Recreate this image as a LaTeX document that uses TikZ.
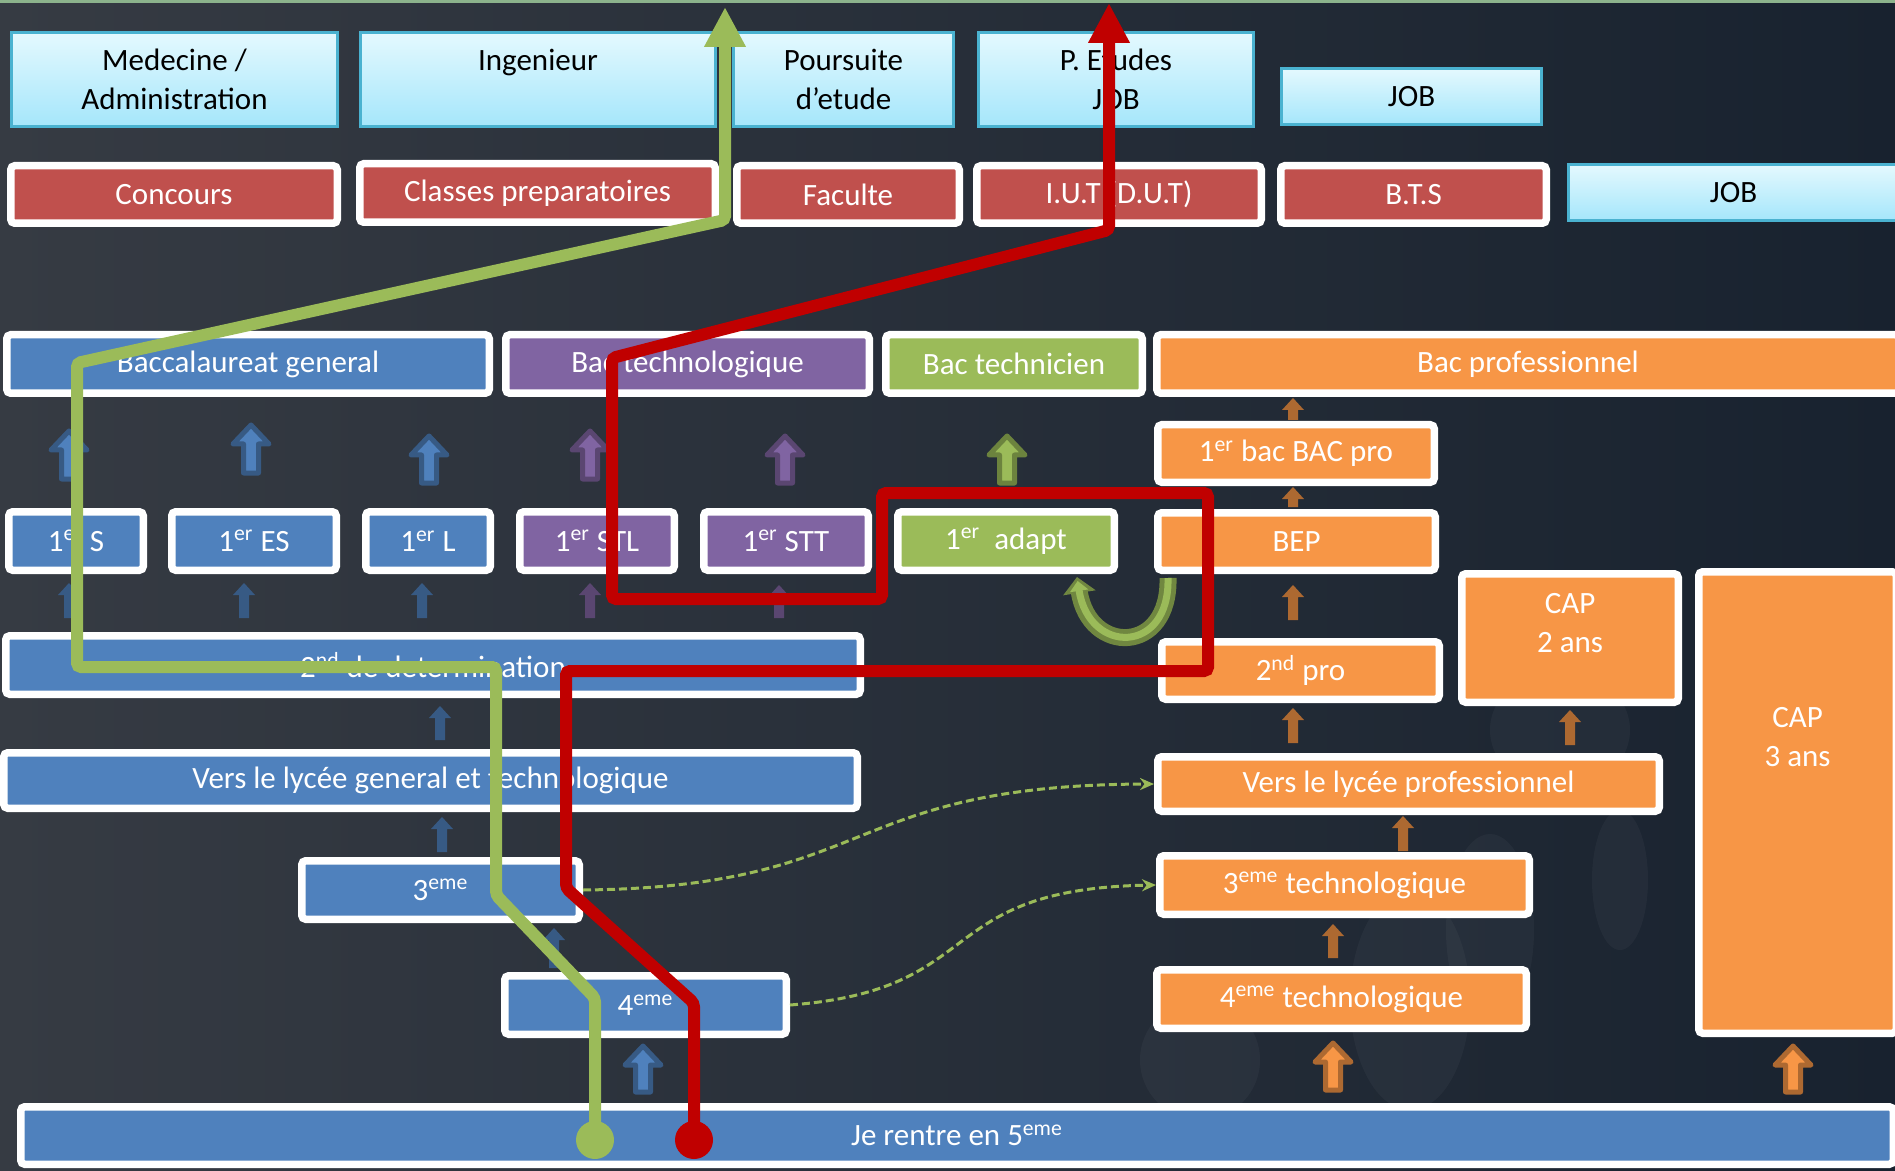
\documentclass[tikz,border=0pt]{standalone}
\usepackage{fontspec}
\setmainfont{Carlito}
\usetikzlibrary{arrows.meta}

\definecolor{bgL}{HTML}{363B43}
\definecolor{bgR}{HTML}{18222F}
\definecolor{topline}{HTML}{8CB38C}
\definecolor{offblue}{HTML}{4F81BD}
\definecolor{offpurple}{HTML}{8064A2}
\definecolor{offgreen}{HTML}{9BBB59}
\definecolor{offorange}{HTML}{F79646}
\definecolor{offred}{HTML}{C0504D}
\definecolor{pathred}{HTML}{C00000}
\definecolor{cyantop}{HTML}{E4F9FE}
\definecolor{cyanbot}{HTML}{A5E6FB}
\definecolor{cyanline}{HTML}{4AB2D0}

% box from its outer corners (in px): [border]{style}{name}{x1}{y1}{x2}{y2}{text}
\newcommand\pbox[8][7.5]{%
  \node[#2,minimum width={(#6-#4-#1)*0.5pt},minimum height={(#7-#5-#1)*0.5pt}] (#3) at ({(#4+#6)/2},{(#5+#7)/2}) {#8};}

\begin{document}
\begin{tikzpicture}[x=0.5pt,y=-0.5pt,
  txtfont/.style={font=\fontsize{15.5pt}{19.5pt}\selectfont},
  cyanbox/.style={txtfont,draw=cyanline,line width=1.5pt,top color=cyantop,bottom color=cyanbot,text=black,align=center,inner sep=0pt},
  framed/.style={txtfont,draw=white,line width=3.75pt,rounded corners=2pt,text=white,align=center,inner sep=0pt},
  bluebox/.style={framed,fill=offblue},
  purplebox/.style={framed,fill=offpurple},
  greenbox/.style={framed,fill=offgreen},
  orangebox/.style={framed,fill=offorange},
  redbox/.style={framed,fill=offred},
  txt/.style={txtfont,text=white,align=center,inner sep=0pt},
  bigarr/.style={fill=#1,draw=#1!70!black,line width=2.5pt,line join=round},
  smallarr/.style={fill=#1!70!black},
  route/.style={line width=6pt,rounded corners=2pt,-{Triangle[width=19.5pt,length=20pt]}},
  dashlink/.style={draw=offgreen,line width=1.5pt,dash pattern=on 4pt off 2pt,-{Stealth[length=7pt,width=6pt]}}]
\useasboundingbox (0,0) rectangle (1895,1171);
\clip (0,0) rectangle (1895,1171);
\shade[left color=bgL,right color=bgR] (0,0) rectangle (1895,1171);
\fill[topline] (0,0) rectangle (1895,3);
% faint spots
\begin{scope}[white,opacity=.035]
\fill (1410,1000) ellipse [x radius=30pt,y radius=55pt];
\fill (1490,930) ellipse [x radius=22pt,y radius=48pt];
\fill (1560,730) ellipse [x radius=35pt,y radius=30pt];
\fill (1620,880) ellipse [x radius=14pt,y radius=35pt];
\fill (1200,1060) ellipse [x radius=30pt,y radius=30pt];
\end{scope}

% block arrows
\foreach \x/\yb/\yt/\c in {69/479/431/offblue,251/473/425/offblue,429/483/436/offblue,643/1092/1046/offblue,
  590/479/431/offpurple,785/483/436/offpurple,1007/483/436/offgreen,1333/1090/1043/offorange,1793/1092/1046/offorange}
  \draw[bigarr=\c] (\x-7.5,\yb) -- (\x-7.5,\yt+19) -- (\x-18,\yt+19) -- (\x,\yt) -- (\x+18,\yt+19) -- (\x+7.5,\yt+19) -- (\x+7.5,\yb) -- cycle;
\foreach \x/\yb/\yt/\c in {69/618/583/offblue,244/618/583/offblue,422/618/583/offblue,440/740/706/offblue,442/852/817/offblue,554/968/928/offblue,
  590/618/583/offpurple,779/618/585/offpurple,
  1293/420/398/offorange,1293/507/487/offorange,1293/620/585/offorange,1293/743/708/offorange,1570/745/710/offorange,1403/851/816/offorange,1333/958/924/offorange}
  \fill[smallarr=\c] (\x-5,\yb) -- (\x-5,\yt+12) -- (\x-11,\yt+12) -- (\x,\yt) -- (\x+11,\yt+12) -- (\x+5,\yt+12) -- (\x+5,\yb) -- cycle;

% top rows
\pbox[3]{cyanbox}{med}{10}{31}{339}{128}{Medecine /\\Administration}
\pbox[3]{cyanbox}{ing}{359}{31}{717}{128}{Ingenieur\\\phantom{I}}
\pbox[3]{cyanbox}{pours}{732}{31}{955}{128}{Poursuite\\d’etude}
\pbox[3]{cyanbox}{petud}{977}{31}{1255}{128}{P. Etudes\\JOB}
\pbox[3]{cyanbox}{joba}{1280}{67}{1543}{126}{JOB}
\pbox[3]{cyanbox}{jobb}{1567}{163}{1900}{222}{JOB}
\pbox{redbox}{conc}{7}{162}{341}{227}{Concours}
\pbox{redbox}{prepa}{356}{160}{719}{226}{Classes preparatoires}
\pbox{redbox}{fac}{733}{162}{963}{227}{Faculte}
\pbox{redbox}{iut}{973}{162}{1265}{227}{I.U.T (D.U.T)}
\pbox{redbox}{bts}{1277}{162}{1550}{227}{B.T.S}
% bac
\pbox{bluebox}{bgen}{3}{331}{493}{397}{Baccalaureat general}
\pbox{purplebox}{btech}{502}{331}{873}{397}{Bac technologique}
\pbox{greenbox}{btechn}{882}{331}{1146}{397}{Bac technicien}
\pbox{orangebox}{bpro}{1153}{331}{1903}{397}{Bac professionnel}
% premiere
\pbox{orangebox}{bacpro}{1154}{421}{1438}{486}{1\textsuperscript{er} bac BAC pro}
\pbox{bluebox}{ps}{5}{508}{147}{574}{1\textsuperscript{er} S}
\pbox{bluebox}{pes}{168}{508}{340}{574}{1\textsuperscript{er} ES}
\pbox{bluebox}{pl}{362}{508}{494}{574}{1\textsuperscript{er} L}
\pbox{purplebox}{pstl}{516}{508}{678}{574}{1\textsuperscript{er} STL}
\pbox{purplebox}{pstt}{700}{508}{872}{574}{1\textsuperscript{er} STT}
\pbox{greenbox}{padapt}{894}{508}{1118}{574}{1\textsuperscript{er}~ adapt}
\pbox{orangebox}{bep}{1154}{509}{1439}{574}{BEP}
% seconde
\pbox{bluebox}{sec}{2}{632}{864}{698}{2\textsuperscript{nd} de determination}
\pbox{orangebox}{secpro}{1158}{638}{1443}{703}{2\textsuperscript{nd} pro}
\pbox{orangebox}{cap2}{1458}{570}{1682}{706}{}
\pbox{orangebox}{cap3}{1695}{568}{1900}{1037}{}
\node[txt] (cap2t) at ([yshift=7.5pt]cap2.center) {CAP\\2 ans};
\node[txt] (cap3t) at ([yshift=32.75pt]cap3.center) {CAP\\3 ans};
\pbox{bluebox}{lgt}{0}{749}{861}{812}{Vers le lycée general et technologique}
\pbox{orangebox}{lpro}{1154}{753}{1663}{815}{Vers le lycée professionnel}
% college
\pbox{bluebox}{trois}{298}{857}{583}{923}{3\textsuperscript{eme}}
\pbox{bluebox}{quatre}{501}{972}{790}{1038}{4\textsuperscript{eme}}
\pbox{orangebox}{troist}{1156}{852}{1533}{918}{3\textsuperscript{eme} technologique}
\pbox{orangebox}{quatret}{1153}{966}{1530}{1032}{4\textsuperscript{eme} technologique}
\pbox{bluebox}{cinq}{17}{1103}{1897}{1168}{Je rentre en 5\textsuperscript{eme}}

% links
\draw[dashlink] (trois.east) .. controls +(296,-3) and +(-316,1) .. (lpro.west);
\draw[dashlink] (quatre.east) .. controls +(200,-15) and +(-226,4) .. (troist.west);
\draw[offgreen!72!black,line width=8.5pt,-{Triangle[length=8pt,width=16pt]}]
  ([xshift=7pt,yshift=-2pt]bep.south west) .. controls +(2,77) and +(12,78) .. ([xshift=-20.5pt,yshift=-1.5pt]padapt.south east);
\draw[offgreen,line width=3.5pt,shorten >=2pt,-{Triangle[length=5pt,width=9pt]}]
  ([xshift=7pt,yshift=-2pt]bep.south west) .. controls +(2,77) and +(12,78) .. ([xshift=-20.5pt,yshift=-1.5pt]padapt.south east);

% the two routes
\coordinate (gstart) at (595,1140);
\coordinate (gend) at (725,7);
\coordinate (rstart) at (694,1140);
\coordinate (rend) at (1109,3);
\draw[route,offgreen] (gstart) -- (595,998) -- (496,895) -- (496,667) -- (77,667) -- (77,363) -- (725,220) -- (gend);
\draw[route,pathred] (rstart) -- (694,1003) -- (566,888) -- (566,671) -- (1208,671) -- (1208,493) -- (882,493)
  -- (882,599) -- (612,599) -- (612,358) -- (1109,230) -- (rend);
\fill[offgreen] (gstart) circle[radius=9.5pt];
\fill[pathred] (rstart) circle[radius=9.5pt];
\end{tikzpicture}
\end{document}
